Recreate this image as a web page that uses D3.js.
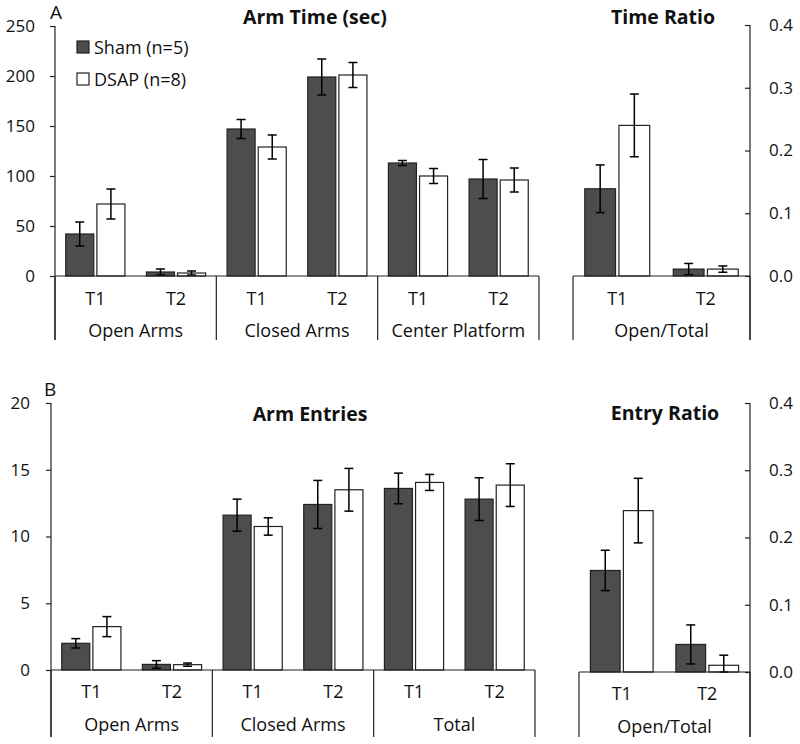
<!DOCTYPE html>
<html><head><meta charset="utf-8">
<script src="https://cdn.jsdelivr.net/npm/d3@7"></script>
<style>
body{margin:0;background:#fff;}
svg text{font-family:"Open Sans",sans-serif;fill:#111;}
</style></head>
<body><svg id="c" width="800" height="744"></svg>
<script>
const trials = ["T1","T2"];
const series = ["Sham (n=5)","DSAP (n=8)"];
// Panel A
const groupsA = ["Open Arms","Closed Arms","Center Platform"];
const timeSham = [42, 4, 147, 199, 113, 97];
const timeShamErr = [12, 3, 9.5, 18, 2.5, 19.5];
const timeDsap = [72, 3, 129, 201, 100, 96];
const timeDsapErr = [15, 2, 12, 12.5, 7.5, 12];
const timeRatioSham = [0.139, 0.011];
const timeRatioShamErr = [0.038, 0.009];
const timeRatioDsap = [0.240, 0.011];
const timeRatioDsapErr = [0.05, 0.005];
const ticksA = [0, 50, 100, 150, 200, 250];
// Panel B
const groupsB = ["Open Arms","Closed Arms","Total"];
const entrySham = [2.0, 0.42, 11.6, 12.4, 13.6, 12.8];
const entryShamErr = [0.35, 0.28, 1.2, 1.8, 1.15, 1.6];
const entryDsap = [3.25, 0.4, 10.75, 13.5, 14.05, 13.85];
const entryDsapErr = [0.75, 0.12, 0.65, 1.6, 0.6, 1.6];
const entryRatioSham = [0.151, 0.041];
const entryRatioShamErr = [0.03, 0.029];
const entryRatioDsap = [0.240, 0.01];
const entryRatioDsapErr = [0.048, 0.015];
const ticksB = [0, 5, 10, 15, 20];
const ticksRatio = [0, 0.1, 0.2, 0.3, 0.4];
const ratioGroup = ["Open/Total"];

const svg = d3.select("#c");
const colors = ["#4d4d4d", "#ffffff"];
const LABEL = 18, TICK = 17, TITLE = 19.5;

function drawBars(g, groups, sham, shamErr, dsap, dsapErr, x0, x1, y, yBottom, tBase, cBase) {
  const gx = d3.scaleBand().domain(groups).range([x0, x1]).padding(0);
  const tx = d3.scaleBand().domain(trials).range([0, gx.bandwidth()]).padding(0);
  const sx = d3.scaleBand().domain(series).range([0, tx.bandwidth()]).paddingInner(0.1).paddingOuter(0.345);
  const rows = [];
  groups.forEach((gr, gi) => trials.forEach((t, ti) => {
    const k = gi * 2 + ti;
    rows.push({gr, t, s: series[0], v: sham[k], e: shamErr[k], c: colors[0]});
    rows.push({gr, t, s: series[1], v: dsap[k], e: dsapErr[k], c: colors[1]});
  }));
  const xb = d => gx(d.gr) + tx(d.t) + sx(d.s);
  g.selectAll("rect.bar").data(rows).join("rect").attr("class","bar")
    .attr("x", xb).attr("width", sx.bandwidth())
    .attr("y", d => y(d.v)).attr("height", d => y(0) - y(d.v))
    .attr("fill", d => d.c).attr("stroke", "#222").attr("stroke-width", 1.2);
  const eb = g.selectAll("g.err").data(rows).join("g").attr("class","err");
  const cx = d => xb(d) + sx.bandwidth() / 2;
  eb.append("line").attr("x1", cx).attr("x2", cx).attr("y1", d => y(d.v + d.e)).attr("y2", d => y(Math.max(0, d.v - d.e)))
    .attr("stroke", "#000").attr("stroke-width", 1.5);
  [1, -1].forEach(sg => {
    eb.append("line").attr("x1", d => cx(d) - 4.5).attr("x2", d => cx(d) + 4.5)
      .attr("y1", d => y(Math.max(0, d.v + sg * d.e))).attr("y2", d => y(Math.max(0, d.v + sg * d.e)))
      .attr("stroke", "#000").attr("stroke-width", 1.5);
  });
  g.append("line").attr("x1", x0).attr("x2", x1).attr("y1", y(0)).attr("y2", y(0)).attr("stroke", "#222").attr("stroke-width", 1.2);
  const edges = [x0].concat(groups.map(gr => gx(gr) + gx.bandwidth()));
  g.selectAll("line.div").data(edges).join("line").attr("class","div")
    .attr("x1", d => d).attr("x2", d => d).attr("y1", y(0)).attr("y2", yBottom)
    .attr("stroke", "#222").attr("stroke-width", 1.2);
  groups.forEach(gr => {
    trials.forEach(t => {
      g.append("text").attr("x", gx(gr) + tx(t) + tx.bandwidth() / 2).attr("y", tBase)
        .attr("text-anchor", "middle").attr("font-size", LABEL).text(t);
    });
    g.append("text").attr("x", gx(gr) + gx.bandwidth() / 2).attr("y", cBase)
      .attr("text-anchor", "middle").attr("font-size", LABEL).text(gr);
  });
}

function leftAxis(x, y, ticks, pad) {
  const a = svg.append("g").attr("transform", `translate(${x},0)`)
    .call(d3.axisLeft(y).tickValues(ticks).tickSize(5).tickPadding(pad).tickFormat(d3.format("d")));
  a.select(".domain").remove();
  a.selectAll("line").attr("stroke", "#222").attr("stroke-width", 1.2);
  a.selectAll("text").attr("font-size", TICK).attr("font-family", "Open Sans").attr("fill", "#111");
}
function rightAxis(x, y, ticks) {
  const a = svg.append("g").attr("transform", `translate(${x},0)`)
    .call(d3.axisRight(y).tickValues(ticks).tickSize(-5).tickPadding(19).tickFormat(d3.format(".1f")));
  a.select(".domain").remove();
  a.selectAll("line").attr("stroke", "#222").attr("stroke-width", 1.2);
  a.selectAll("text").attr("font-size", TICK).attr("font-family", "Open Sans").attr("fill", "#111");
}
function vline(x, ya, yb) {
  svg.append("line").attr("x1", x).attr("x2", x).attr("y1", ya).attr("y2", yb).attr("stroke", "#222").attr("stroke-width", 1.2);
}
function title(x, y, t) {
  svg.append("text").attr("x", x).attr("y", y).attr("text-anchor", "middle").attr("font-size", TITLE).attr("font-weight", "bold").text(t);
}

// ---- Panel A ----
const yA = d3.scaleLinear().domain([0, 250]).range([276, 26]);
const yAr = d3.scaleLinear().domain([0, 0.4]).range([276, 25]);
vline(55, 26, 340);
leftAxis(55, yA, ticksA, 15);
drawBars(svg.append("g"), groupsA, timeSham, timeShamErr, timeDsap, timeDsapErr, 55, 539, yA, 340, 305, 337);
vline(750, 25, 340);
rightAxis(750, yAr, ticksRatio);
drawBars(svg.append("g"), ratioGroup, timeRatioSham, timeRatioShamErr, timeRatioDsap, timeRatioDsapErr, 573, 750, yAr, 340, 305, 337);
title(315, 24, "Arm Time (sec)");
title(663, 24, "Time Ratio");
svg.append("text").attr("x", 50).attr("y", 19).attr("font-size", 19).text("A");
series.forEach((s, i) => {
  svg.append("rect").attr("x", 77).attr("y", 41 + i * 32).attr("width", 12).attr("height", 12)
    .attr("fill", colors[i]).attr("stroke", "#222").attr("stroke-width", 1.2);
  svg.append("text").attr("x", 94).attr("y", 54 + i * 32).attr("font-size", LABEL).text(s);
});

// ---- Panel B ----
const yB = d3.scaleLinear().domain([0, 20]).range([670, 403]);
const yBr = d3.scaleLinear().domain([0, 0.4]).range([672, 403]);
vline(51, 403, 737);
leftAxis(51, yB, ticksB, 16);
drawBars(svg.append("g"), groupsB, entrySham, entryShamErr, entryDsap, entryDsapErr, 51, 535, yB, 737, 698, 731);
vline(750, 403, 737);
rightAxis(750, yBr, ticksRatio);
drawBars(svg.append("g"), ratioGroup, entryRatioSham, entryRatioShamErr, entryRatioDsap, entryRatioDsapErr, 579, 750, yBr, 737, 700, 733);
title(310, 421, "Arm Entries");
title(665, 420, "Entry Ratio");
svg.append("text").attr("x", 44).attr("y", 396).attr("font-size", 19).text("B");
</script></body></html>
